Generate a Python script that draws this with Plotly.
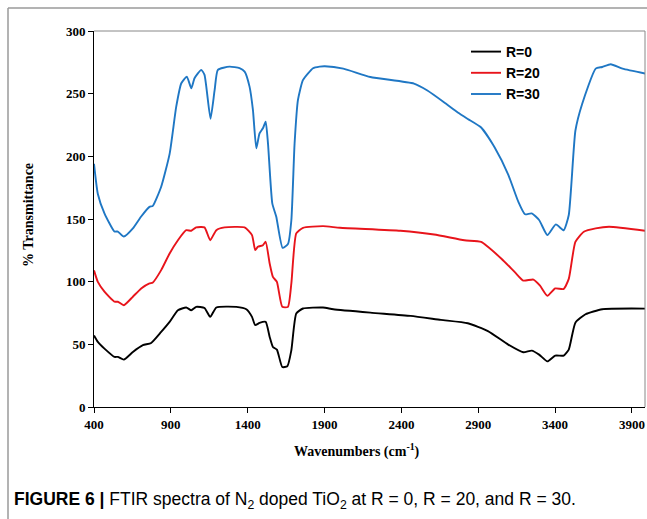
import plotly.graph_objects as go

# ---- data ----
r0_x = [400, 425, 468, 533, 555, 594, 653, 718, 772, 837, 892, 946, 1000, 1033, 1065, 1119, 1156, 1196,
        1326, 1391, 1428, 1449, 1477, 1517, 1543, 1564, 1590, 1625, 1658, 1684, 1716, 1760, 1890, 1957,
        2198, 2460, 2657, 2832, 2963, 3095, 3193, 3248, 3296, 3350, 3401, 3456, 3489, 3532, 3598, 3707, 3990]
r0_y = [57, 51.9, 46.6, 40, 40, 37.8, 43.9, 49.3, 51.1, 59.9, 67.9, 77.2, 79.4, 77.2, 79.9, 79, 71.9, 79.4,
        79.9, 78, 71.9, 65.3, 67.1, 67.9, 55.9, 47.9, 45.8, 31.9, 32.5, 45.3, 74.6, 78.6, 79.4, 78,
        75.3, 72.7, 69.5, 66.8, 60.6, 49.8, 43.7, 45, 41.8, 36.4, 41, 41, 45.8, 67.3, 74, 78, 78.5]

r20_x = [400, 425, 468, 533, 555, 594, 653, 707, 761, 783, 837, 892, 946, 1000, 1033, 1065, 1119, 1156,
         1196, 1250, 1380, 1428, 1449, 1466, 1499, 1517, 1543, 1564, 1590, 1625, 1662, 1684, 1716, 1760,
         1890, 2000, 2394, 2613, 2810, 2919, 3051, 3138, 3193, 3259, 3302, 3350, 3401, 3456, 3489, 3532,
         3587, 3664, 3751, 3990]
r20_y = [109, 99.8, 92, 84, 84, 81.2, 88, 94.6, 98.6, 99.4, 109.2, 122.5, 133.1, 141.1, 140.6, 143.3, 143.3, 133.1,
         141.1, 143.3, 143.3, 137.1, 125.2, 127.8, 129.1, 131.8, 114.5, 103.8, 99.8, 79.9, 79.9, 98.6, 138.5, 143,
         144.3, 143, 140.6, 137.6, 133, 131.7, 118.3, 107.6, 100.9, 101.7, 96.8, 88.7, 94.6, 94.2, 102.2, 131.7,
         139.8, 142.5, 143.8, 140.5]

r30_x = [400, 425, 468, 533, 555, 594, 653, 707, 761, 783, 837, 892, 935, 968, 1004, 1033, 1054, 1098, 1119,
         1158, 1185, 1206, 1282, 1347, 1380, 1412, 1434, 1456, 1477, 1499, 1517, 1532, 1560, 1586, 1627, 1662,
         1684, 1705, 1727, 1760, 1825, 1868, 1902, 2022, 2198, 2482, 2569, 2679, 2767, 2832, 2919, 3007, 3095,
         3160, 3204, 3248, 3296, 3350, 3405, 3456, 3489, 3532, 3576, 3664, 3707, 3762, 3839, 3990]
r30_y = [194, 170, 154.5, 140, 140, 136, 142.5, 152, 159.7, 160.5, 175.7, 202, 239.6, 258.3, 263.6, 254.3, 262.3, 269, 265,
         230, 253, 269, 271.6, 270.3, 267.6, 255.6, 237, 206.4, 218.4, 222.4, 227.6, 210.4, 162.5, 151.8, 127, 130,
         149, 210, 245, 261, 270.3, 271.6, 271.9, 270, 263.3, 258, 252.5, 243, 235, 229.8, 223, 207, 185.5,
         164, 153.8, 154.5, 149.2, 137.1, 145.7, 141, 153.2, 220.4, 241.8, 270, 271.3, 273.5, 270, 266]

series = [("R=0", r0_x, r0_y, "#000000"),
          ("R=20", r20_x, r20_y, "#e8141b"),
          ("R=30", r30_x, r30_y, "#1f77c4")]

x_ticks = [400, 900, 1400, 1900, 2400, 2900, 3400, 3900]
y_ticks = [0, 50, 100, 150, 200, 250, 300]

fig = go.Figure()
for name, xs, ys, col in series:
    fig.add_trace(go.Scatter(x=xs, y=ys, mode="lines", name=name,
                             line=dict(color=col, width=1.9, shape="spline", smoothing=0.5)))

serif = "Liberation Serif"
W, H = 647, 519
ml, mr, mt, mb = 94, 2, 31, 112
pw = W - ml - mr
ph = H - mt - mb

def px_x(p):
    return (p - ml) / pw

def px_y(p):
    return (H - mb - p) / ph

fig.update_layout(
    width=W, height=H,
    margin=dict(l=ml, r=mr, t=mt, b=mb),
    paper_bgcolor="white", plot_bgcolor="white",
    showlegend=True,
    legend=dict(x=px_x(466), y=px_y(36), xanchor="left", yanchor="top",
                bgcolor="rgba(0,0,0,0)", font=dict(family="Liberation Sans", size=14, color="black", weight="bold"),
                itemwidth=30, tracegroupgap=0),
    xaxis=dict(range=[400, 3985], tickvals=x_ticks, ticktext=[str(v) for v in x_ticks],
               showgrid=False, zeroline=False, showline=True, linecolor="black", linewidth=1,
               ticks="outside", ticklen=5, tickcolor="black",
               tickfont=dict(family=serif, size=13, color="black", weight="bold")),
    yaxis=dict(range=[0, 300], tickvals=y_ticks, showgrid=False, zeroline=False,
               showline=True, linecolor="black", linewidth=1,
               ticks="outside", ticklen=5, tickcolor="black",
               tickfont=dict(family=serif, size=13, color="black", weight="bold")),
    shapes=[
        # top and right plot frame
        dict(type="line", xref="paper", yref="paper", x0=0, x1=1, y0=1, y1=1,
             line=dict(color="#888888", width=1)),
        dict(type="line", xref="paper", yref="paper", x0=1, x1=1, y0=0, y1=1,
             line=dict(color="#888888", width=1)),
        # figure border (top and left)
        dict(type="line", xref="paper", yref="paper", x0=px_x(8), x1=px_x(W + 5), y0=px_y(8), y1=px_y(8),
             line=dict(color="#9a9a9a", width=1.5)),
        dict(type="line", xref="paper", yref="paper", x0=px_x(8), x1=px_x(8), y0=px_y(8), y1=px_y(H + 5),
             line=dict(color="#9a9a9a", width=1.5)),
    ],
    annotations=[
        dict(text="Wavenumbers (cm<sup>-1</sup>)", xref="paper", yref="paper",
             x=px_x(357), y=px_y(450), xanchor="center", yanchor="middle", showarrow=False,
             font=dict(family=serif, size=14, color="black", weight="bold")),
        dict(text="% Transmittance", xref="paper", yref="paper", textangle=-90,
             x=px_x(28), y=px_y(215), xanchor="center", yanchor="middle", showarrow=False,
             font=dict(family=serif, size=14, color="black", weight="bold")),
        dict(text="<b>FIGURE 6 |</b> FTIR spectra of N<sub>2</sub> doped TiO<sub>2</sub> at R = 0, R = 20, and R = 30.",
             xref="paper", yref="paper", x=px_x(12), y=px_y(500), xanchor="left", yanchor="middle",
             showarrow=False, font=dict(family="Liberation Sans", size=17.5, color="black")),
    ],
)

fig.write_html("out.html")
